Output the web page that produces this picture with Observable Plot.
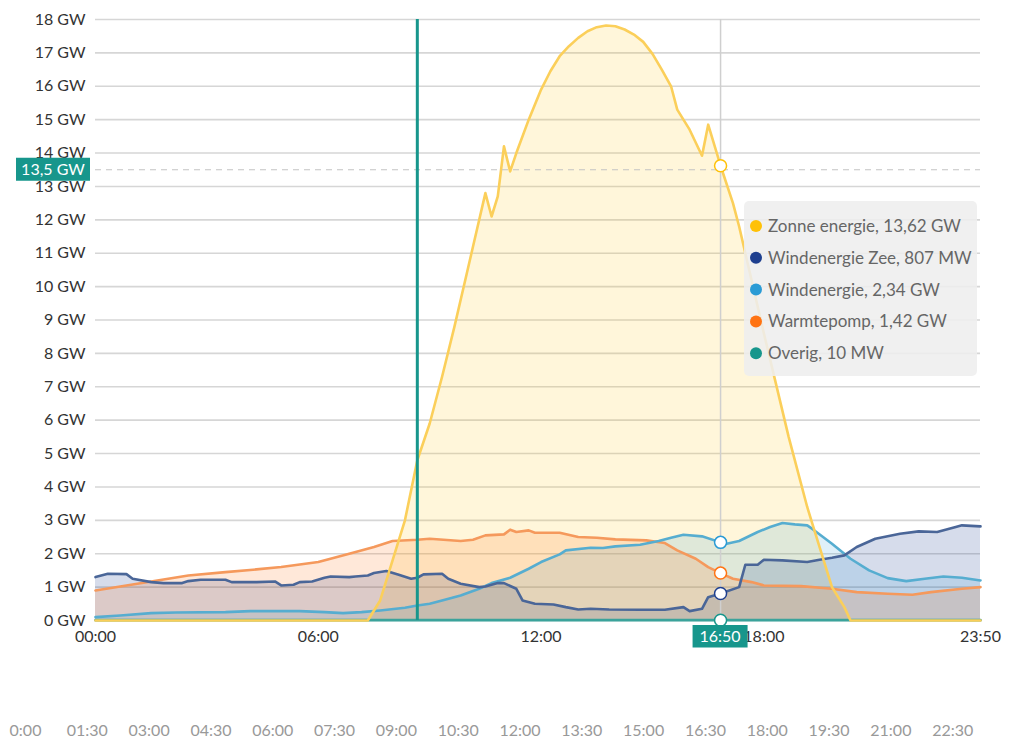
<!DOCTYPE html>
<html><head><meta charset="utf-8">
<script src="https://cdn.jsdelivr.net/npm/d3@7"></script>
<script src="https://cdn.jsdelivr.net/npm/@observablehq/plot@0.6"></script>
<style>
html,body{margin:0;padding:0;background:#fff;}
#wrap{position:relative;width:1017px;height:740px;overflow:hidden;font-family:Lato,sans-serif;}
#wrap svg{display:block;}
</style></head><body><div id="wrap"></div>
<script>
// ---------- data ----------
const seriesNames = ["Zonne energie", "Windenergie Zee", "Windenergie", "Warmtepomp", "Overig"];
const seriesColors = ["#ffc107", "#1e3f8f", "#2a9bd5", "#ff7312", "#17968c"];
const lineColors = ["#fbcf5a", "#4a6698", "#56add0", "#f5995c", "#3ba39b"];
const cursorValues = [13.62, 0.807, 2.34, 1.42, 0.01];
const cursorLabels = ["13,62 GW", "807 MW", "2,34 GW", "1,42 GW", "10 MW"];

const solarTimes = ["00:00","07:20","07:40","08:00","08:20","08:40","09:00","09:20","09:40","10:00","10:10","10:30","10:40","10:50","11:00","11:10","11:20","11:40","12:00","12:15","12:30","12:45","13:00","13:15","13:30","13:45","14:00","14:15","14:30","14:45","15:00","15:15","15:30","15:40","16:00","16:20","16:30","16:50","17:10","17:20","18:00","18:40","19:10","19:20","19:50","20:10","20:20","23:50"];
const solarValues = [0,0,0.6,1.8,3.0,4.8,5.9,7.3,8.8,10.4,11.2,12.8,12.1,12.7,14.2,13.45,14.0,15.0,15.9,16.45,16.9,17.2,17.45,17.65,17.77,17.82,17.8,17.7,17.55,17.33,16.97,16.5,16.0,15.3,14.7,13.92,14.85,13.62,12.5,11.8,8.6,5.5,3.4,2.8,1.0,0.4,0,0];

const zeeTimes = ["00:00","00:20","00:50","01:00","01:30","01:50","02:20","02:30","02:50","03:30","03:40","04:20","04:50","05:00","05:20","05:30","05:50","06:10","06:20","06:50","07:00","07:20","07:30","07:50","08:10","08:30","08:40","08:50","09:20","09:30","09:50","10:20","10:30","10:50","11:00","11:20","11:30","11:50","12:20","12:40","13:00","13:20","13:50","14:40","15:20","15:50","16:00","16:20","16:30","16:50","17:20","17:30","17:50","18:00","18:30","19:10","19:30","19:50","20:10","20:30","21:00","21:40","22:10","22:40","23:10","23:20","23:50"];
const zeeValues = [1.30,1.40,1.39,1.25,1.15,1.12,1.12,1.18,1.22,1.22,1.15,1.15,1.17,1.05,1.07,1.15,1.17,1.28,1.32,1.30,1.32,1.35,1.42,1.48,1.37,1.25,1.28,1.38,1.40,1.25,1.10,1.00,1.02,1.12,1.12,0.95,0.60,0.50,0.48,0.40,0.33,0.35,0.33,0.32,0.32,0.40,0.28,0.35,0.70,0.807,1.00,1.67,1.67,1.82,1.80,1.75,1.82,1.88,1.95,2.20,2.45,2.60,2.67,2.65,2.80,2.85,2.82];

const windTimes = ["00:00","00:40","01:30","02:10","03:30","04:10","05:30","06:10","06:40","07:10","07:40","08:20","08:40","09:00","09:20","09:50","10:20","10:40","11:10","11:40","12:00","12:30","12:40","13:20","13:40","14:00","14:40","15:10","15:30","15:50","16:20","16:50","17:00","17:20","17:50","18:10","18:30","18:50","19:10","19:20","19:50","20:20","20:50","21:20","21:50","22:20","22:50","23:20","23:50"];
const windValues = [0.10,0.15,0.22,0.24,0.25,0.28,0.28,0.25,0.22,0.25,0.30,0.38,0.45,0.50,0.60,0.75,0.95,1.12,1.28,1.55,1.75,1.98,2.10,2.18,2.17,2.22,2.27,2.38,2.48,2.57,2.52,2.34,2.30,2.38,2.65,2.80,2.92,2.88,2.85,2.72,2.30,1.85,1.50,1.27,1.18,1.25,1.32,1.28,1.20];

const heatTimes = ["00:00","00:40","01:40","02:30","03:30","04:20","05:00","06:00","06:50","07:30","08:00","08:40","09:00","09:50","10:10","10:30","11:00","11:10","11:20","11:40","11:50","12:30","13:00","13:30","14:00","14:50","15:20","15:40","16:10","16:30","16:50","17:10","17:40","18:00","19:00","19:50","20:30","21:20","22:00","22:30","23:20","23:50"];
const heatValues = [0.90,1.02,1.20,1.35,1.45,1.53,1.60,1.75,2.00,2.20,2.38,2.42,2.45,2.38,2.42,2.55,2.58,2.72,2.65,2.70,2.63,2.63,2.50,2.48,2.43,2.40,2.32,2.10,1.85,1.60,1.42,1.25,1.15,1.05,1.03,0.95,0.85,0.80,0.77,0.85,0.95,1.00];

const otherTimes = ["00:00","06:00","12:00","18:00","23:50"];
const otherValues = [0.01,0.01,0.01,0.01,0.01];

const yTicks = [0,1,2,3,4,5,6,7,8,9,10,11,12,13,14,15,16,17,18];
const xTickLabels = ["00:00","06:00","12:00","18:00","23:50"];
const navTickLabels = ["0:00","01:30","03:00","04:30","06:00","07:30","09:00","10:30","12:00","13:30","15:00","16:30","18:00","19:30","21:00","22:30"];
const nowTime = "08:40";
const cursorTime = "16:50";
const crossValue = 13.5;
const crossLabel = "13,5 GW";

// ---------- helpers ----------
const toH = s => { const [h, m] = s.split(":").map(Number); return h + m / 60; };
const seriesTimes = [solarTimes, zeeTimes, windTimes, heatTimes, otherTimes];
const seriesValues = [solarValues, zeeValues, windValues, heatValues, otherValues];
const seriesRows = seriesNames.map((name, k) =>
  seriesTimes[k].map((t, i) => ({series: name, h: toH(t), v: seriesValues[k][i]})));
const cursorRows = seriesNames.map((name, k) => ({series: name, h: toH(cursorTime), v: cursorValues[k], k}));
const xTicks = xTickLabels.map(toH);
const navTicks = navTickLabels.map(toH);

const areaOpacity = [0.15, 0.18, 0.15, 0.16, 0.2];

const marks = [
  Plot.gridY(yTicks, {stroke: "#d6d6d6", strokeOpacity: 1, strokeWidth: 1.6}),
];
seriesRows.forEach((rows, k) => {
  marks.push(Plot.areaY(rows, {x: "h", y: "v", fill: seriesColors[k], fillOpacity: areaOpacity[k], curve: "linear"}));
});
[4, 3, 2, 1, 0].forEach(k => {
  marks.push(Plot.lineY(seriesRows[k], {x: "h", y: "v", stroke: lineColors[k], strokeWidth: 2.6, curve: "linear"}));
});
marks.push(
  Plot.ruleY([crossValue], {stroke: "#c4c4c4", strokeWidth: 1.2, strokeDasharray: "6,5"}),
  Plot.ruleX([toH(cursorTime)], {stroke: "#cfcfcf", strokeWidth: 1.5}),
  Plot.ruleX([toH(nowTime)], {stroke: "#17968c", strokeWidth: 3}),
  Plot.dot(cursorRows, {x: "h", y: "v", r: 6, fill: "#fff", stroke: d => seriesColors[d.k], strokeWidth: 1.5}),
  Plot.axisY(yTicks, {label: null, tickSize: 0, tickPadding: 10, tickFormat: d => `${d} GW`, fill: "#333", fontSize: 16}),
  Plot.axisX(xTicks, {label: null, tickSize: 0, tickPadding: 10, tickFormat: d => xTickLabels[xTicks.indexOf(d)], fill: "#333", fontSize: 16})
);

const chart = Plot.plot({
  width: 1017, height: 650,
  marginLeft: 95, marginRight: 37, marginTop: 19, marginBottom: 30,
  x: {type: "linear", domain: [0, toH("23:50")], label: null},
  y: {domain: [0, 18], label: null},
  style: {fontFamily: "Lato, sans-serif", background: "transparent", overflow: "visible"},
  marks
});
document.getElementById("wrap").appendChild(chart);

// overlays positioned with the plot's own scales
const sx = chart.scale("x"), sy = chart.scale("y");
const svg = d3.select(chart);
const teal = "#17968c";

// y cross label box
const yc = sy.apply(crossValue);
const g1 = svg.append("g");
g1.append("rect").attr("x", 16).attr("y", yc - 11.5).attr("width", 74).attr("height", 23).attr("fill", teal);
g1.append("text").attr("x", 53).attr("y", yc).attr("dy", "0.35em").attr("text-anchor", "middle")
  .attr("fill", "#fff").attr("font-size", 16).attr("font-family", "Lato, sans-serif").text(crossLabel);

// x cursor label box
const xc = sx.apply(toH(cursorTime));
const g2 = svg.append("g");
g2.append("rect").attr("x", xc - 27.5).attr("y", 625).attr("width", 55).attr("height", 22.5).attr("fill", teal);
g2.append("text").attr("x", xc).attr("y", 636.5).attr("dy", "0.35em").attr("text-anchor", "middle")
  .attr("fill", "#fff").attr("font-size", 16).attr("font-family", "Lato, sans-serif").text(cursorTime);

// tooltip box
const tip = svg.append("g");
tip.append("rect").attr("x", 744).attr("y", 201).attr("width", 233).attr("height", 175).attr("rx", 5)
  .attr("fill", "#eeeeee").attr("fill-opacity", 0.88);
seriesNames.forEach((name, k) => {
  const cy = 226 + k * 31.8;
  tip.append("circle").attr("cx", 756).attr("cy", cy).attr("r", 6).attr("fill", seriesColors[k]);
  tip.append("text").attr("x", 768).attr("y", cy).attr("dy", "0.35em").attr("text-anchor", "start").attr("fill", "#666")
    .attr("font-size", 17).attr("font-family", "Lato, sans-serif").text(`${name}, ${cursorLabels[k]}`);
});

// navigator axis
const nav = Plot.plot({
  width: 1017, height: 90,
  marginLeft: 25, marginRight: 3, marginTop: 0, marginBottom: 20,
  x: {type: "linear", domain: [0, 24], label: null},
  style: {fontFamily: "Lato, sans-serif", background: "transparent", overflow: "visible"},
  marks: [
    Plot.axisX(navTicks, {label: null, tickSize: 0, tickPadding: 4, tickFormat: d => navTickLabels[navTicks.indexOf(d)], fill: "#999", fontSize: 16})
  ]
});
document.getElementById("wrap").appendChild(nav);
</script></body></html>
